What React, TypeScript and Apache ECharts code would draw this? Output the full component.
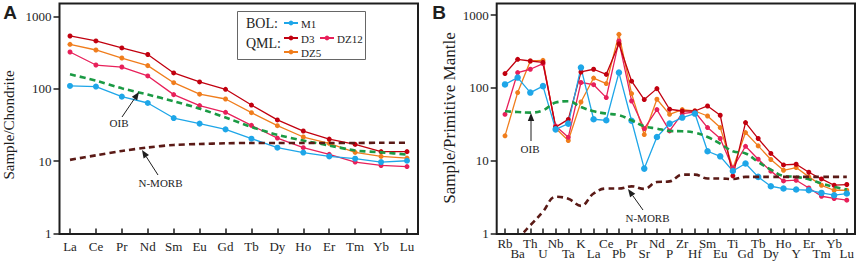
import React, { useEffect, useRef } from 'react';
import * as echarts from 'echarts';

// ---- Panel A: chondrite-normalized REE ----
const REE = ['La', 'Ce', 'Pr', 'Nd', 'Sm', 'Eu', 'Gd', 'Tb', 'Dy', 'Ho', 'Er', 'Tm', 'Yb', 'Lu'];
const M1_REE = [109, 107, 77.6, 63.4, 39.3, 32.9, 27.4, 20.4, 15.3, 13.1, 11.6, 10.8, 9.7, 10.1];
const D3_REE = [534, 456, 365, 296, 165, 124, 98, 59.4, 37, 26, 20.1, 17, 13.5, 13.5];
const DZ12_REE = [321, 212, 199, 150, 82.7, 58.3, 47.1, 31.1, 20.8, 15.3, 12.4, 9.7, 8.7, 8.4];
const DZ5_REE = [410, 342, 265, 208, 121, 84, 72, 46.6, 30.8, 21.5, 17.6, 13.2, 11.6, 11.0];
const OIB_REE = [158, 129, 101, 83, 67, 53, 40, 29.5, 23, 19.2, 16.4, 14, 13.2, 12.3];
const NMORB_REE = [10.4, 12, 13.8, 15.4, 16.7, 17.2, 17.6, 17.8, 17.8, 17.8, 17.8, 17.8, 17.9, 17.9];

// ---- Panel B: primitive-mantle-normalized spider diagram ----
const SPIDER = ['Rb', 'Ba', 'Th', 'U', 'Nb', 'Ta', 'K', 'La', 'Ce', 'Pb', 'Pr', 'Sr', 'Nd', 'P', 'Zr', 'Hf', 'Sm', 'Eu', 'Ti', 'Gd', 'Tb', 'Dy', 'Ho', 'Y', 'Er', 'Tm', 'Yb', 'Lu'];
const M1_PM = [112, 139, 86.5, 106, 27, 32.4, 191, 37.2, 36, 163, 35.5, 7.8, 21.2, 32.4, 39.2, 44.5, 13.5, 11.5, 7.24, 9.16, 6.0, 4.46, 4.15, 4.02, 3.93, 3.61, 3.36, 3.54];
const D3_PM = [158, 248, 235, 225, 29, 37, 166, 181, 154, 405, 124, 69.3, 98, 51, 48.3, 48.3, 56.6, 42.2, 6.2, 33.5, 20.2, 12.6, 8.76, 8.95, 6.95, 5.62, 4.61, 4.71];
const DZ12_PM = [43.5, 163, 181, 216, 30, 21, 119, 111, 73.8, 442, 66.3, 27.7, 50.5, 25.7, 44.5, 46.8, 28.6, 20.2, 7.9, 15.8, 10.5, 7.2, 5.28, 5.4, 4.23, 3.25, 3.03, 2.87];
const DZ5_PM = [22, 86.5, 235, 240, 28, 19, 64.2, 137, 115, 547, 83.8, 22.9, 70, 43.5, 50.5, 48.3, 41.2, 28.6, 7.9, 24.4, 16, 10.4, 7.4, 8.07, 6.0, 4.6, 3.93, 3.93];
const OIB_PM = [47.9, 46.8, 45.9, 49.4, 63, 65.7, 54.8, 47.9, 44.5, 42.2, 36, 29.8, 27.7, 25.7, 25.4, 24.4, 21.2, 17.2, 13.5, 12.6, 9.6, 7.57, 6.18, 6.0, 5.57, 4.86, 4.37, 4.02];
const NMORB_PM = [0.88, 0.92, 1.3, 2.0, 3.2, 3.0, 2.4, 3.55, 4.15, 4.15, 4.45, 4.1, 5.1, 5.2, 6.45, 6.45, 5.7, 5.7, 5.6, 6.0, 6.0, 6.0, 6.0, 6.0, 6.0, 6.0, 6.0, 6.0];

const Y_TICKS = [1, 10, 100, 1000];

const C_M1 = '#1ea6e8';
const C_D3 = '#c1000f';
const C_DZ12 = '#e8205a';
const C_DZ5 = '#f07d1c';
const C_OIB = '#1b9a44';
const C_NMORB = '#5a1a16';
const SERIF = 'Liberation Serif';
const SANS = 'Liberation Sans';
const INK = '#1e1e1e';

function sample(name: string, data: number[], color: string, gi: number, size = 5) {
  return {
    type: 'line', name, data, xAxisIndex: gi, yAxisIndex: gi,
    symbol: 'circle', symbolSize: size, showSymbol: true,
    lineStyle: { color, width: 1.3 }, itemStyle: { color }, z: 3,
  };
}
function ref(name: string, data: number[], color: string, gi: number, smooth: number) {
  return {
    type: 'line', name, data, xAxisIndex: gi, yAxisIndex: gi, symbol: 'none', smooth,
    lineStyle: { color, width: 2.6, type: [6, 4] }, z: 4,
  };
}
function xAxis(data: string[], gi: number, twoRow: boolean) {
  return {
    type: 'category', gridIndex: gi, data, boundaryGap: false,
    axisLine: { show: false },
    axisTick: { show: true, inside: true, length: 5, interval: 0, lineStyle: { color: INK, width: 1.5 } },
    axisLabel: {
      interval: 0, margin: twoRow ? 5 : 6, fontFamily: SERIF, fontSize: 13, color: INK,
      lineHeight: twoRow ? 10 : 13,
      formatter: twoRow ? (v: string, i: number) => (i % 2 ? '\n' + v : v) : (v: string) => v,
    },
    splitLine: { show: false },
  };
}
function yAxis(gi: number, max: number, offset: number) {
  const fmt = (v: number) => {
    const l = Math.log10(v);
    return Math.abs(l - Math.round(l)) < 1e-6 ? String(Math.round(v)) : '';
  };
  return {
    type: 'log', logBase: 10, gridIndex: gi, min: 1, max, offset,
    axisLine: { show: false },
    axisTick: { show: true, inside: false, length: 6, customValues: Y_TICKS, lineStyle: { color: INK, width: 1.5 } },
    axisLabel: { customValues: Y_TICKS, margin: 8, fontFamily: SERIF, fontSize: 13, color: INK, formatter: fmt },
    splitLine: { show: false },
  };
}
function arrow(x1: number, y1: number, x2: number, y2: number) {
  const dx = x2 - x1, dy = y2 - y1, L = Math.hypot(dx, dy), ux = dx / L, uy = dy / L;
  const hl = 8, hw = 3.2;
  const bx = x2 - ux * hl, by = y2 - uy * hl;
  return [
    { type: 'line', shape: { x1, y1, x2: bx, y2: by }, style: { stroke: INK, lineWidth: 1 }, z: 10 },
    { type: 'polygon', shape: { points: [[x2, y2], [bx - uy * hw, by + ux * hw], [bx + uy * hw, by - ux * hw]] }, style: { fill: INK }, z: 10 },
  ];
}
function txt(text: string, x: number, y: number, size: number, extra: any = {}) {
  const { family, weight, align, ...rest } = extra;
  return {
    type: 'text', x, y, z: 10, ...rest,
    style: {
      text, fill: INK, fontFamily: family || SERIF, fontSize: size, fontWeight: weight || 'normal',
      textAlign: align || 'center', align: align || 'center',
      textVerticalAlign: 'middle', verticalAlign: 'middle',
    },
  };
}
function legendItem(x: number, y: number, color: string, label: string) {
  return [
    { type: 'line', shape: { x1: x, y1: y, x2: x + 14, y2: y }, style: { stroke: color, lineWidth: 2 }, z: 10 },
    { type: 'circle', shape: { cx: x + 7, cy: y, r: 2.4 }, style: { fill: color }, z: 10 },
    txt(label, x + 17, y + 0.5, 11, { align: 'left' }),
  ];
}

export default function App() {
  const ref0 = useRef<HTMLDivElement>(null);
  useEffect(() => {
    if (!ref0.current) return;
    const chart = echarts.init(ref0.current, null, { renderer: 'svg' });
    const graphic: any[] = [
      // frames
      { type: 'rect', shape: { x: 59.5, y: 3.5, width: 358.5, height: 230.5 }, style: { fill: 'none', stroke: INK, lineWidth: 2 }, z: 9 },
      { type: 'rect', shape: { x: 496.7, y: 3.5, width: 358.3, height: 230.5 }, style: { fill: 'none', stroke: INK, lineWidth: 2 }, z: 9 },
      // panel letters
      txt('A', 10, 12, 19, { family: SANS, weight: 'bold' }),
      txt('B', 439, 12, 19, { family: SANS, weight: 'bold' }),
      // axis titles
      txt('Sample/Chondrite', 9, 125, 15, { rotation: Math.PI / 2 }),
      txt('Sample/Primitive Mantle', 449, 118, 17, { rotation: Math.PI / 2 }),
      // legend
      { type: 'rect', shape: { x: 237.5, y: 11.5, width: 128, height: 48 }, style: { fill: '#fff', stroke: '#666', lineWidth: 1 }, z: 9 },
      txt('BOL:', 246, 23, 14, { align: 'left' }),
      txt('QML:', 246, 43, 14, { align: 'left' }),
      ...legendItem(284, 23, C_M1, 'M1'),
      ...legendItem(284, 38, C_D3, 'D3'),
      ...legendItem(320, 38, C_DZ12, 'DZ12'),
      ...legendItem(284, 52, C_DZ5, 'DZ5'),
      // annotations
      ...arrow(122, 117, 139, 92),
      txt('OIB', 119, 123, 11),
      ...arrow(158, 175, 142, 150),
      txt('N-MORB', 160.5, 183, 11),
      ...arrow(531, 141, 531, 113),
      txt('OIB', 530, 149, 11),
      ...arrow(643, 210, 628, 189),
      txt('N-MORB', 647.5, 217.5, 11),
    ];
    chart.setOption({
      animation: false,
      backgroundColor: '#fff',
      textStyle: { fontFamily: SERIF },
      grid: [
        { left: 70, right: 451, top: 3.5, bottom: 27.5, containLabel: false },
        { left: 505, right: 11.2, top: 3.5, bottom: 27.5, containLabel: false },
      ],
      xAxis: [xAxis(REE, 0, false), xAxis(SPIDER, 1, true)],
      yAxis: [yAxis(0, 1500, 10.5), yAxis(1, 1450, 8.3)],
      series: [
        sample('DZ5', DZ5_REE, C_DZ5, 0),
        sample('DZ12', DZ12_REE, C_DZ12, 0),
        sample('D3', D3_REE, C_D3, 0),
        sample('M1', M1_REE, C_M1, 0, 6),
        ref('OIB', OIB_REE, C_OIB, 0, 0.2),
        ref('N-MORB', NMORB_REE, C_NMORB, 0, 0.3),
        sample('DZ5', DZ5_PM, C_DZ5, 1),
        sample('DZ12', DZ12_PM, C_DZ12, 1),
        sample('D3', D3_PM, C_D3, 1),
        sample('M1', M1_PM, C_M1, 1, 6.5),
        ref('OIB', OIB_PM, C_OIB, 1, 0.4),
        ref('N-MORB', NMORB_PM, C_NMORB, 1, 0.4),
      ],
      graphic,
    } as any);
    return () => chart.dispose();
  }, []);
  return <div ref={ref0} style={{ position: 'fixed', left: 0, top: 0, width: 858, height: 261, background: '#fff' }} />;
}
